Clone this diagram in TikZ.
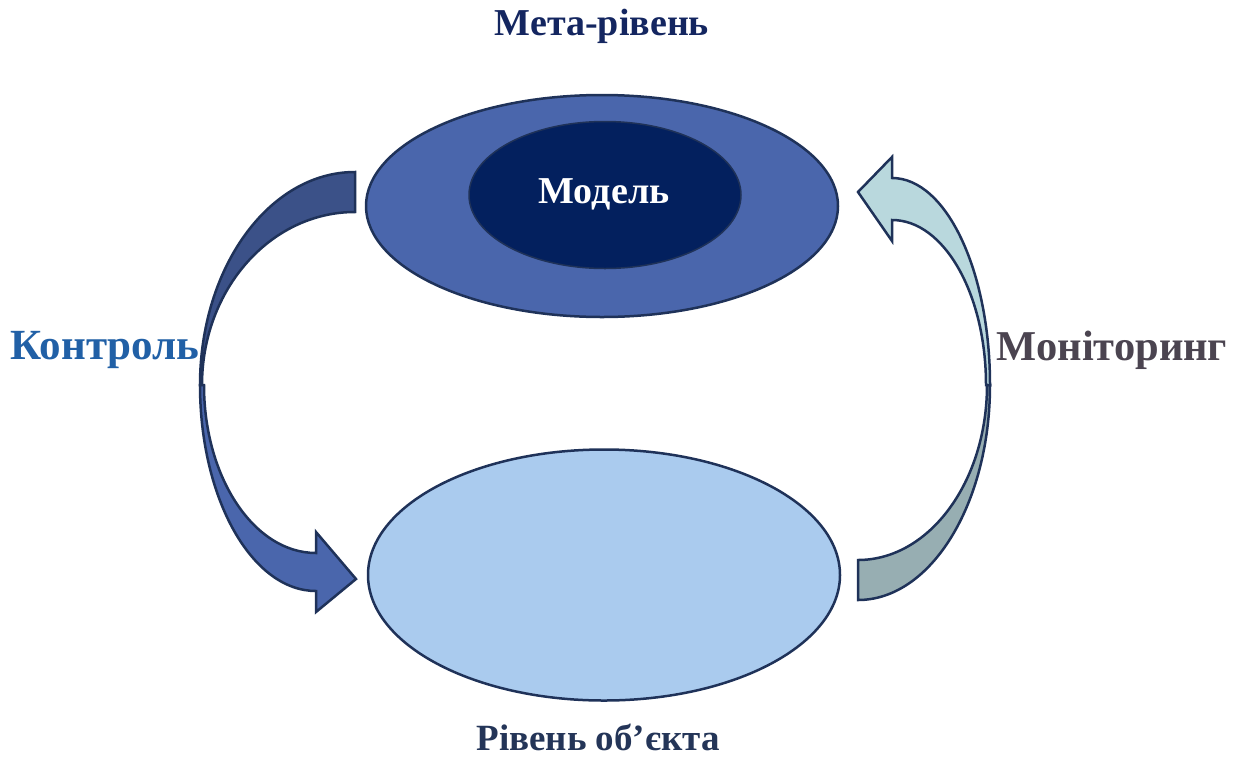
\documentclass[tikz,border=0pt]{standalone}
\usepackage{fontspec}
\setmainfont{Liberation Serif}
\usetikzlibrary{shapes.geometric}
\definecolor{edge}{HTML}{1F3259}
\definecolor{metafill}{HTML}{4A66AC}
\definecolor{modelfill}{HTML}{03205E}
\definecolor{objfill}{HTML}{AACBEE}
\definecolor{ctrlback}{HTML}{3B5188}
\definecolor{ctrlfront}{HTML}{4A66AC}
\definecolor{monfront}{HTML}{B9D8DD}
\definecolor{monback}{HTML}{97AEB2}
\definecolor{metatext}{HTML}{142660}
\definecolor{objtext}{HTML}{243558}
\definecolor{ctrltext}{HTML}{2160A6}
\definecolor{montext}{HTML}{4B4450}
\tikzset{
  level/.style={ellipse, draw=edge, line width=2.5pt, inner sep=0pt},
  arrowshape/.style={draw=edge, line width=2.5pt, line join=miter},
  caption/.style={font=\bfseries\fontsize{#1}{#1}\selectfont, anchor=base, inner sep=0pt},
}
\begin{document}
\begin{tikzpicture}[x=1pt, y=-1pt]
\useasboundingbox (0,0) rectangle (1239,758);
% levels
\node[level, fill=metafill, minimum width=472, minimum height=222] (meta) at (602,206) {};
\node[level, fill=modelfill, line width=1.5pt, minimum width=272, minimum height=147] (model) at (605,195) {};
\node[level, fill=objfill, minimum width=472, minimum height=251] (obj) at (604,575) {};
% control arrow (left)
\path[arrowshape, fill=ctrlback] (355,172) arc[start angle=270, end angle=180, x radius=155, y radius=213]
  -- (202,385) arc[start angle=180, end angle=270, x radius=153, y radius=173] -- cycle;
\path[arrowshape, fill=ctrlfront] (200,385) arc[start angle=180, end angle=90, x radius=116, y radius=206]
  -- (316,612) -- (356,579) -- (316,532) -- (316,553)
  arc[start angle=90, end angle=180, x radius=112, y radius=168] -- cycle;
% monitoring arrow (right)
\path[arrowshape, fill=monback] (858,600) arc[start angle=90, end angle=0, x radius=132, y radius=215]
  -- (987,385) arc[start angle=0, end angle=90, x radius=129, y radius=175] -- cycle;
\path[arrowshape, fill=monfront] (990,385) arc[start angle=0, end angle=-90, x radius=98, y radius=207]
  -- (892,157) -- (858,192) -- (892,241) -- (892,220)
  arc[start angle=-90, end angle=0, x radius=94, y radius=165] -- cycle;
% texts
\node[caption=38, text=metatext] (metalabel) at (602,35) {Мета-рівень};
\node[caption=38, text=white] (modellabel) at (604,203) {Модель};
\node[caption=43, text=ctrltext] (ctrllabel) at (105,359) {Контроль};
\node[caption=42.5, text=montext] (monlabel) at (1112,360) {Моніторинг};
\node[caption=37, text=objtext] (objlabel) at (598,750) {Рівень об’єкта};
\end{tikzpicture}
\end{document}
